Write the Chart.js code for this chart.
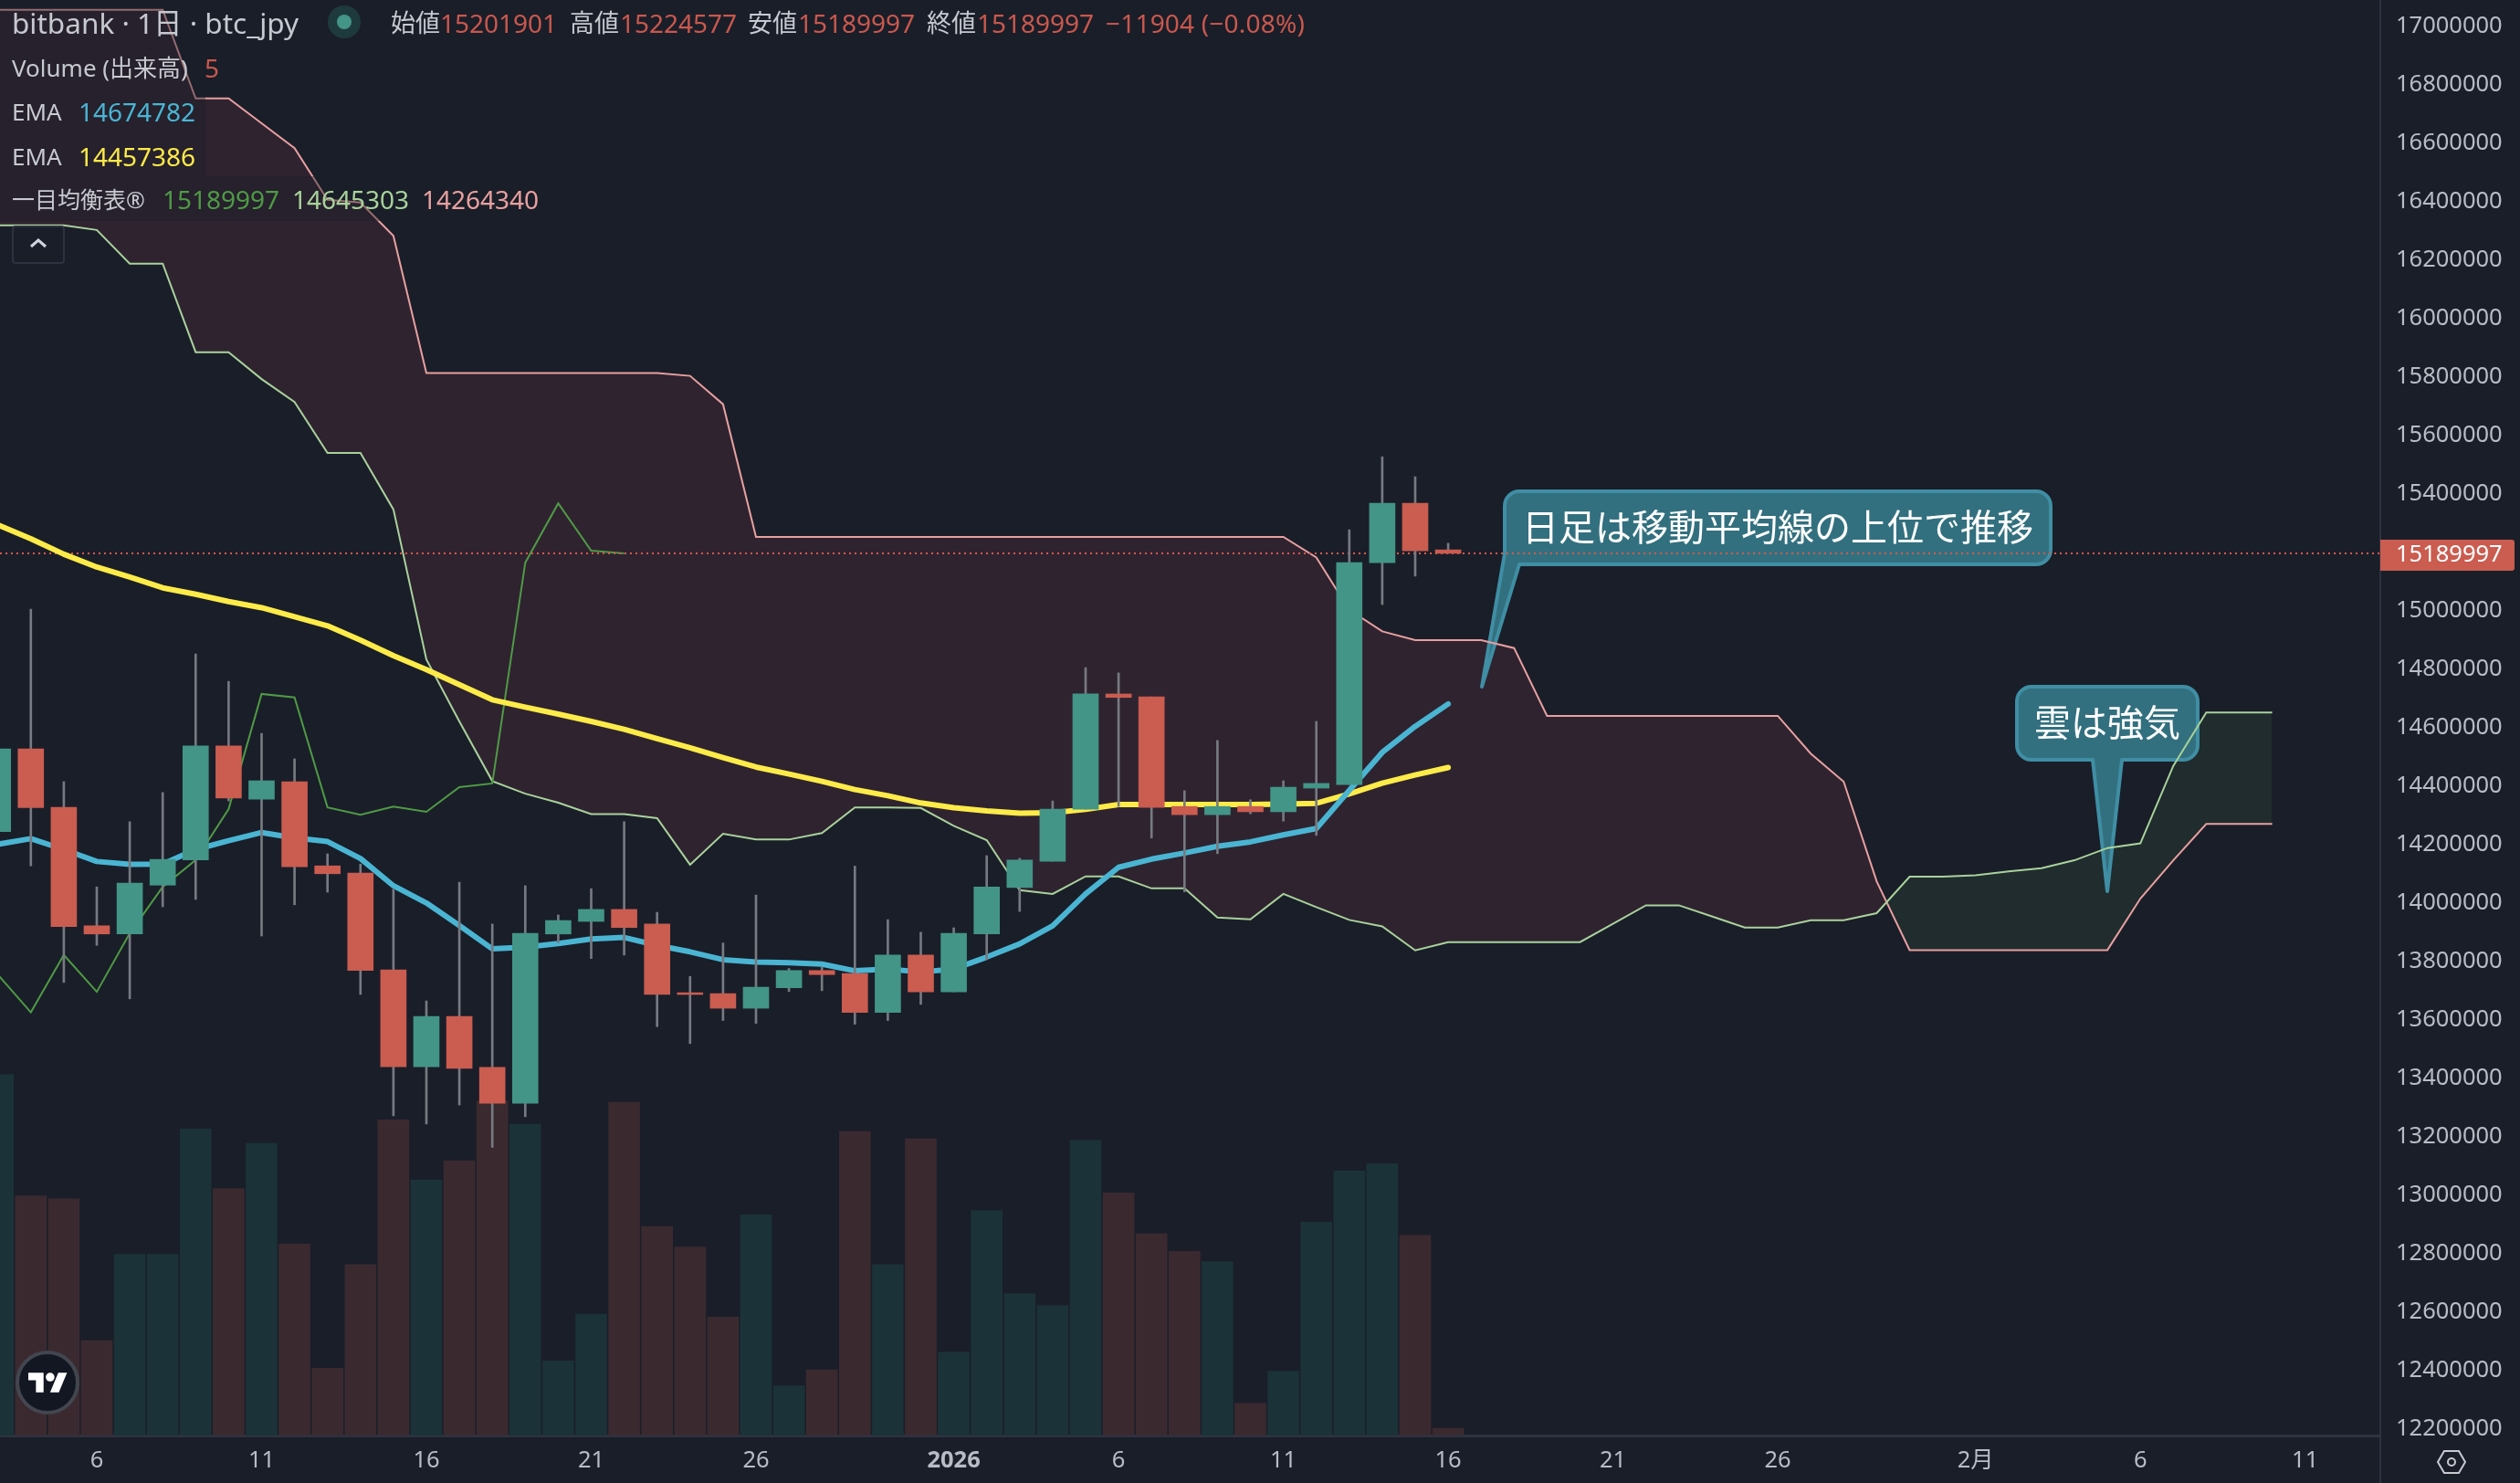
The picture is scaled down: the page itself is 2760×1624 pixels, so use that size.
<!DOCTYPE html>
<html lang="ja">
<head>
<meta charset="utf-8">
<title>bitbank btc_jpy</title>
<script src="https://cdn.jsdelivr.net/npm/chart.js@4/dist/chart.umd.js"></script>
<style>
html, body { margin: 0; padding: 0; background: #1a1e29; }
#wrap { position: relative; width: 2760px; height: 1624px; overflow: hidden; font-family: "Noto Sans", "Noto Sans CJK JP", sans-serif; }
canvas { position: absolute; left: 0; top: 0; }
.row { position: absolute; left: 0; background: rgba(26, 30, 41, 0.4); }
.t { position: absolute; white-space: nowrap; font-size: 28px; line-height: 34px; color: #c6c9cf; transform: translateY(-50%); }
.red { color: #c9584d; }
#toggle { position: absolute; left: 13px; top: 247px; width: 54px; height: 38px; border: 2px solid #2e3240; border-radius: 4px; }
#logo { position: absolute; left: 17px; top: 1479px; width: 62px; height: 62px; border-radius: 50%; background: #131722; border: 4px solid #43464f; }
</style>
</head>
<body>
<div id="wrap">
  <canvas id="myChart" width="2760" height="1624"></canvas>

  <div class="row" style="top:0;width:340px;height:50px"></div>
  <div class="row" style="top:50px;width:250px;height:47px"></div>
  <div class="row" style="top:97px;width:225px;height:96px"></div>
  <div class="row" style="top:193px;width:592px;height:49px"></div>

  <span class="t" style="left:13px;top:25px;font-size:31.5px">bitbank · 1日 · btc_jpy</span>
  <svg style="position:absolute;left:359px;top:6px" width="36" height="36"><circle cx="18" cy="18" r="18" fill="#1f3a3d"/><circle cx="18" cy="18" r="8" fill="#429587"/></svg>
  <span class="t" style="left:428px;top:25px;font-size:27px">始値</span><span class="t red" style="left:482px;top:25px">15201901</span>
  <span class="t" style="left:624px;top:25px;font-size:27px">高値</span><span class="t red" style="left:679px;top:25px">15224577</span>
  <span class="t" style="left:819px;top:25px;font-size:27px">安値</span><span class="t red" style="left:874px;top:25px">15189997</span>
  <span class="t" style="left:1015px;top:25px;font-size:27px">終値</span><span class="t red" style="left:1070px;top:25px">15189997</span>
  <span class="t red" style="left:1211px;top:25px;letter-spacing:0.2px">−11904 (−0.08%)</span>

  <span class="t" style="left:13px;top:74px;font-size:26px">Volume (出来高)</span><span class="t red" style="left:224px;top:74px">5</span>
  <span class="t" style="left:13px;top:122px;font-size:26px">EMA</span><span class="t" style="left:86px;top:122px;color:#4ab5d3">14674782</span>
  <span class="t" style="left:13px;top:171px;font-size:26px">EMA</span><span class="t" style="left:86px;top:171px;color:#fdeb49">14457386</span>
  <span class="t" style="left:13px;top:218px;font-size:25px">一目均衡表®</span><span class="t" style="left:178px;top:218px;color:#4f9a45">15189997</span><span class="t" style="left:320px;top:218px;color:#a9d29b">14645303</span><span class="t" style="left:462px;top:218px;color:#e8a0a0">14264340</span>

  <div id="toggle"><svg width="54" height="38"><path d="M19 21l8-7 8 7" fill="none" stroke="#d1d4dc" stroke-width="3"/></svg></div>
  <div id="logo"><svg style="position:absolute;left:10px;top:20px" width="43" height="22" viewBox="0 4 36 18"><path d="M14 22H7V11H0V4h14v18zM28 22h-8l7.5-18h8L28 22z" fill="#fff"/><circle cx="20" cy="8" r="4" fill="#fff"/></svg></div>
  <svg style="position:absolute;left:2668px;top:1587px" width="34" height="28"><path d="M9 2h16l7 12-7 12H9L2 14z" fill="none" stroke="#c8cad0" stroke-width="2"/><circle cx="17" cy="14" r="4" fill="none" stroke="#c8cad0" stroke-width="2"/></svg>
</div>

<script>
// daily candles, index 0 = Dec 3
const opens = [14238000, 14521000, 14321000, 13916000, 13888000, 14055000, 14141000, 14531000, 14349000, 14409000, 14121000, 14096000, 13765000, 13434000, 13606000, 13432000, 13309000, 13888000, 13931000, 13972000, 13922000, 13687000, 13684000, 13634000, 13704000, 13763000, 13753000, 13620000, 13816000, 13690000, 13888000, 14047000, 14137000, 14315000, 14709000, 14699000, 14324000, 14296000, 14324000, 14306000, 14387000, 14399000, 15158000, 15361000, 15201901];
const highs = [14560000, 14999000, 14409000, 14049000, 14272000, 14372000, 14846000, 14752000, 14574000, 14487000, 14162000, 14127000, 14041000, 13659000, 14065000, 13922000, 14053000, 13953000, 14043000, 14272000, 13962000, 13743000, 13857000, 14021000, 13770000, 13774000, 14120000, 13937000, 13894000, 13909000, 14156000, 14147000, 14343000, 14799000, 14781000, 14699000, 14378000, 14550000, 14347000, 14412000, 14615000, 15271000, 15520000, 15452000, 15224577];
const lows = [14200000, 14121000, 13722000, 13849000, 13666000, 13981000, 14006000, 14343000, 13881000, 13988000, 14031000, 13681000, 13266000, 13238000, 13303000, 13158000, 13263000, 13858000, 13804000, 13816000, 13571000, 13513000, 13592000, 13582000, 13691000, 13694000, 13579000, 13592000, 13647000, 13690000, 13801000, 13965000, 14137000, 14315000, 14324000, 14216000, 14032000, 14163000, 14299000, 14274000, 14225000, 14399000, 15015000, 15112000, 15189997];
const closes = [14521000, 14320000, 13913000, 13888000, 14062000, 14143000, 14531000, 14353000, 14412000, 14118000, 14094000, 13763000, 13434000, 13606000, 13428000, 13309000, 13890000, 13934000, 13972000, 13910000, 13681000, 13681000, 13634000, 13706000, 13763000, 13749000, 13620000, 13816000, 13690000, 13890000, 14049000, 14141000, 14315000, 14709000, 14697000, 14321000, 14296000, 14324000, 14306000, 14390000, 14403000, 15158000, 15361000, 15199000, 15189997];
const volumes = [247, 164, 162, 65, 124, 124, 210, 169, 200, 131, 46, 117, 216, 175, 188, 229, 213, 51, 83, 228, 143, 129, 81, 151, 34, 45, 208, 117, 203, 57, 154, 97, 89, 202, 166, 138, 126, 119, 22, 44, 146, 181, 186, 137, 5];

const emaShort = [14195000, 14214000, 14177000, 14136000, 14126000, 14127000, 14177000, 14207000, 14235000, 14217000, 14204000, 14146000, 14053000, 13994000, 13917000, 13837000, 13843000, 13855000, 13871000, 13876000, 13849000, 13827000, 13800000, 13792000, 13790000, 13785000, 13762000, 13768000, 13758000, 13768000, 13809000, 13854000, 13916000, 14025000, 14116000, 14144000, 14165000, 14188000, 14203000, 14227000, 14249000, 14379000, 14509000, 14598000, 14674782];
const emaLong = [15287000, 15240000, 15187000, 15143000, 15109000, 15072000, 15050000, 15025000, 15004000, 14973000, 14942000, 14893000, 14840000, 14792000, 14741000, 14689000, 14664000, 14640000, 14615000, 14588000, 14556000, 14525000, 14491000, 14459000, 14435000, 14410000, 14382000, 14361000, 14336000, 14320000, 14309000, 14301000, 14303000, 14314000, 14331000, 14331000, 14331000, 14331000, 14331000, 14332000, 14335000, 14367000, 14404000, 14432000, 14457386];

// ichimoku, the two spans run 25 bars past the last candle
const lead1 = [16312000, 16312000, 16312000, 16296000, 16181000, 16181000, 15878000, 15878000, 15786000, 15708000, 15533000, 15533000, 15340000, 14827000, 14615000, 14411000, 14368000, 14337000, 14298000, 14298000, 14284000, 14125000, 14231000, 14211000, 14211000, 14233000, 14321000, 14321000, 14319000, 14258000, 14209000, 14038000, 14025000, 14085000, 14085000, 14044000, 14044000, 13944000, 13938000, 14025000, 13980000, 13936000, 13914000, 13832000, 13860000, 13860000, 13860000, 13860000, 13860000, 13923000, 13986000, 13986000, 13948000, 13910000, 13910000, 13935000, 13935000, 13959000, 14084000, 14084000, 14089000, 14102000, 14113000, 14140000, 14182000, 14198000, 14463000, 14645303, 14645303, 14645303];
const lead2 = [17049000, 17049000, 17049000, 17049000, 17049000, 17049000, 16746000, 16746000, 16661000, 16576000, 16399000, 16390000, 16276000, 15807000, 15807000, 15807000, 15807000, 15807000, 15807000, 15807000, 15807000, 15797000, 15700000, 15246000, 15246000, 15246000, 15246000, 15246000, 15246000, 15246000, 15246000, 15246000, 15246000, 15246000, 15246000, 15246000, 15246000, 15246000, 15246000, 15246000, 15176000, 14997000, 14923000, 14893000, 14893000, 14893000, 14866000, 14634000, 14634000, 14634000, 14634000, 14634000, 14634000, 14634000, 14634000, 14505000, 14409000, 14068000, 13833000, 13833000, 13833000, 13833000, 13833000, 13833000, 13833000, 14009000, 14140000, 14264340, 14264340, 14264340];
const chikou = [13749000, 13620000, 13816000, 13690000, 13890000, 14049000, 14141000, 14315000, 14709000, 14697000, 14321000, 14296000, 14324000, 14306000, 14390000, 14403000, 15158000, 15361000, 15199000, 15189997];

// 15200000 sits behind the last price tag
const priceTicks = [12200000, 12400000, 12600000, 12800000, 13000000, 13200000, 13400000, 13600000, 13800000, 14000000, 14200000, 14400000, 14600000, 14800000, 15000000, 15200000, 15400000, 15600000, 15800000, 16000000, 16200000, 16400000, 16600000, 16800000, 17000000];
const dayTicks = [3, 8, 13, 18, 23, 29, 34, 39, 44, 49, 54, 60, 65, 70];
const dayLabels = ['6', '11', '16', '21', '26', '2026', '6', '11', '16', '21', '26', '2月', '6', '11'];

const lastClose = 15189997;
const lastLabel = '15189997';

const UP = '#429587', DOWN = '#ca5c50';
const UP_VOL = '#1b3238', DOWN_VOL = '#3a2a30';
const FONT = '"Noto Sans", "Noto Sans CJK JP", sans-serif';

const xMin = 0.064, xMax = 72.28;
const priceMin = 12172450, priceMax = 17082650;
const volumeMax = 982.5;

const toPoints = (values) => values.map((y, x) => ({ x, y }));
const isUp = closes.map((c, i) => c >= opens[i]);

const LEAD2_INDEX = 1;

// speech bubbles, drawn under the ichimoku lines
const callouts = [
    { text: '日足は移動平均線の上位で推移', x: 1648, y: 538, w: 598, h: 80, baseRight: [1664, 618], tip: [1623, 752], baseLeft: [1648, 606], corner: false },
    { text: '雲は強気', x: 2209, y: 752, w: 198, h: 80, baseRight: [2324, 832], tip: [2308, 976], baseLeft: [2292, 832], corner: true }
];

function drawCallout(ctx, c) {
    const r = 16;
    ctx.save();
    ctx.beginPath();
    ctx.moveTo(c.x + r, c.y);
    ctx.arcTo(c.x + c.w, c.y, c.x + c.w, c.y + c.h, r);
    ctx.arcTo(c.x + c.w, c.y + c.h, c.x, c.y + c.h, r);
    ctx.lineTo(c.baseRight[0], c.baseRight[1]);
    ctx.lineTo(c.tip[0], c.tip[1]);
    ctx.lineTo(c.baseLeft[0], c.baseLeft[1]);
    if (c.corner) ctx.arcTo(c.x, c.y + c.h, c.x, c.y, r);
    ctx.arcTo(c.x, c.y, c.x + c.w, c.y, r);
    ctx.closePath();
    ctx.fillStyle = '#33707f';
    ctx.fill();
    ctx.strokeStyle = '#3f8ea4';
    ctx.lineWidth = 4;
    ctx.lineJoin = 'round';
    ctx.stroke();
    ctx.fillStyle = '#ffffff';
    ctx.font = '40px "Noto Sans CJK JP", sans-serif';
    ctx.textAlign = 'center';
    ctx.textBaseline = 'middle';
    ctx.fillText(c.text, c.x + c.w / 2, c.y + c.h / 2 - 1);
    ctx.restore();
}

const overlayPlugin = {
    id: 'overlay',
    beforeDatasetDraw(chart, args) {
        if (args.index === LEAD2_INDEX) callouts.forEach(c => drawCallout(chart.ctx, c));
    },
    afterDraw(chart) {
        const { ctx, chartArea, scales } = chart;
        ctx.save();
        // price axis line runs through the time axis row too
        ctx.fillStyle = '#2e3240';
        ctx.fillRect(chartArea.right - 1, chartArea.bottom, 2, chart.height - chartArea.bottom);
        // last price tag
        const y = scales.y.getPixelForValue(lastClose);
        ctx.fillStyle = DOWN;
        ctx.beginPath();
        ctx.roundRect(chartArea.right, y - 15, 147, 34, [0, 3, 3, 0]);
        ctx.fill();
        ctx.fillStyle = '#ffffff';
        ctx.font = '25.5px ' + FONT;
        ctx.textAlign = 'left';
        ctx.textBaseline = 'middle';
        ctx.fillText(lastLabel, chartArea.right + 17, y + 2);
        ctx.restore();
    }
};

const ctx = document.getElementById('myChart').getContext('2d');
new Chart(ctx, {
    type: 'bar',
    data: {
        datasets: [
            {
                type: 'bar', label: 'Volume', yAxisID: 'yVol', order: 10, grouped: false,
                data: toPoints(volumes), barThickness: 34,
                backgroundColor: isUp.map(u => u ? UP_VOL : DOWN_VOL)
            },
            {
                type: 'line', label: 'Lead 2', yAxisID: 'y', order: 8,
                data: toPoints(lead2), borderColor: '#e8a0a0', borderWidth: 2, pointRadius: 0,
                fill: { target: 2, above: '#2f2330', below: '#202c2d' }
            },
            {
                type: 'line', label: 'Lead 1', yAxisID: 'y', order: 7,
                data: toPoints(lead1), borderColor: '#a9d29b', borderWidth: 2, pointRadius: 0
            },
            {
                type: 'line', label: 'Chikou', yAxisID: 'y', order: 6,
                data: toPoints(chikou), borderColor: '#4f9a45', borderWidth: 2, pointRadius: 0
            },
            {
                type: 'line', label: 'Last', yAxisID: 'y', order: 5,
                data: [{ x: xMin, y: lastClose }, { x: xMax, y: lastClose }],
                borderColor: '#d8584a', borderWidth: 2, borderDash: [2, 4], pointRadius: 0
            },
            {
                type: 'line', label: 'EMA long', yAxisID: 'y', order: 4,
                data: toPoints(emaLong), borderColor: '#fdeb49', borderWidth: 6, pointRadius: 0,
                borderCapStyle: 'round', borderJoinStyle: 'round'
            },
            {
                type: 'line', label: 'EMA short', yAxisID: 'y', order: 3,
                data: toPoints(emaShort), borderColor: '#4ab5d3', borderWidth: 6, pointRadius: 0,
                borderCapStyle: 'round', borderJoinStyle: 'round'
            },
            {
                type: 'bar', label: 'Wick', yAxisID: 'y', order: 2, grouped: false,
                data: highs.map((h, i) => ({ x: i, y: [lows[i], h] })),
                barThickness: 2, backgroundColor: '#777a80'
            },
            {
                type: 'bar', label: 'Body', yAxisID: 'y', order: 1, grouped: false,
                data: opens.map((o, i) => ({ x: i, y: [o, closes[i]] })),
                barThickness: 28, backgroundColor: isUp.map(u => u ? UP : DOWN)
            }
        ]
    },
    options: {
        responsive: false,
        devicePixelRatio: 1,
        animation: false,
        events: [],
        layout: { padding: 0, autoPadding: false },
        plugins: { legend: { display: false }, tooltip: { enabled: false } },
        scales: {
            x: {
                type: 'linear', min: xMin, max: xMax, offset: false,
                afterBuildTicks: (s) => { s.ticks = dayTicks.map(value => ({ value })); },
                afterFit: (s) => { s.height = 52; s.paddingLeft = 0; s.paddingRight = 0; },
                grid: { display: false, drawTicks: false },
                border: { color: '#2e3240', width: 3 },
                ticks: {
                    autoSkip: false, maxRotation: 0, padding: 12, color: '#b8bcc4',
                    font: (c) => ({ family: FONT, size: 25.5, weight: c.tick && c.tick.value === 29 ? 'bold' : 'normal' }),
                    callback: (value) => dayLabels[dayTicks.indexOf(value)]
                }
            },
            y: {
                type: 'linear', position: 'right', min: priceMin, max: priceMax,
                afterBuildTicks: (s) => { s.ticks = priceTicks.map(value => ({ value })); },
                // tick padding must not eat into the plot height
                afterFit: (s) => { s.width = 153; s.paddingTop = 0; s.paddingBottom = 0; },
                grid: { display: false, drawTicks: false },
                border: { color: '#2e3240', width: 2 },
                ticks: { padding: 17, labelOffset: 2, color: '#b8bcc4', font: { family: FONT, size: 25.5 }, callback: (value) => String(value) }
            },
            yVol: { type: 'linear', display: false, min: 0, max: volumeMax }
        }
    },
    plugins: [overlayPlugin]
});
</script>
</body>
</html>
